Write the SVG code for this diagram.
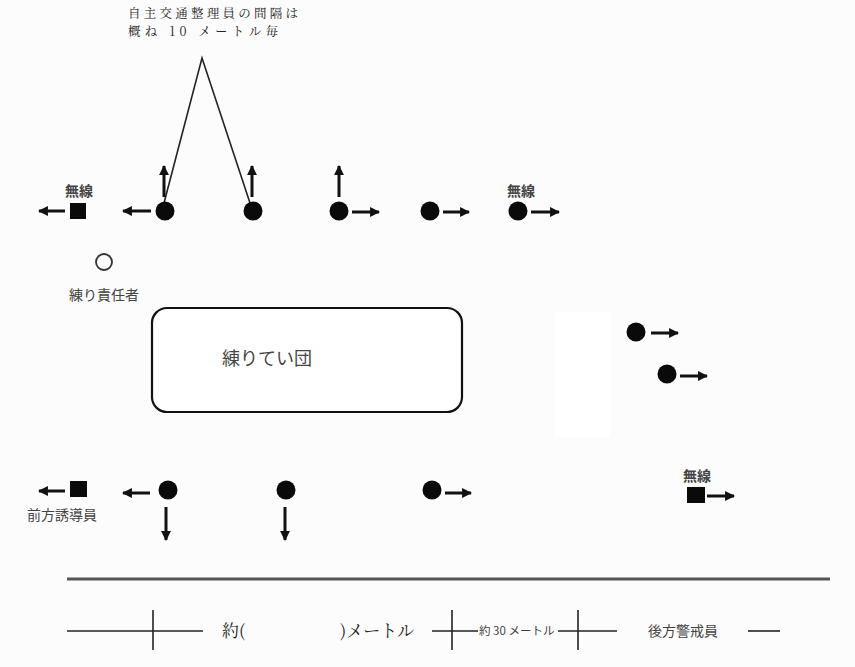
<svg xmlns="http://www.w3.org/2000/svg" width="855" height="667" viewBox="0 0 855 667">
<defs>
<marker id="ah" viewBox="0 0 10 10" refX="9" refY="5" markerWidth="3.3" markerHeight="3.3" orient="auto" markerUnits="strokeWidth">
<path d="M0,0 L10,5 L0,10 z" fill="#111"/>
</marker>
<style>
.arr{stroke:#111;stroke-width:3;fill:none;marker-end:url(#ah)}
.dot{fill:#0a0a0a}
.sq{fill:#0a0a0a}
.lbl{font-family:"Noto Sans CJK JP","Noto Sans CJK SC",sans-serif;font-weight:bold;fill:#444}
.lbn{font-family:"Noto Sans CJK JP","Noto Sans CJK SC",sans-serif;font-weight:normal;fill:#444}
.min{font-family:"Noto Serif CJK JP","Liberation Serif","Noto Sans CJK JP",serif;fill:#222}
.ln{stroke:#222;stroke-width:1.6;fill:none}
</style>
</defs>
<rect width="855" height="667" fill="#fcfcfc"/>
<rect x="555" y="312" width="55" height="125" fill="#ffffff"/>

<g id="note">
<text class="min" x="128" y="17.5" font-size="12.5" textLength="170" lengthAdjust="spacing">自主交通整理員の間隔は</text>
<text class="min" x="128" y="36" font-size="12.5" textLength="150" lengthAdjust="spacing">概ね 10 メートル毎</text>
</g>

<g id="connectors">
<polyline class="ln" points="164,203 202,58 250,203" stroke-width="1.3"/>
<line x1="67" y1="579" x2="830" y2="579" stroke="#555" stroke-width="3"/>
</g>

<g id="top-radio-left">
<text class="lbl" x="79" y="196" font-size="14" text-anchor="middle">無線</text>
<rect class="sq" x="70" y="203" width="16" height="16"/>
<line class="arr" x1="65" y1="211" x2="39" y2="211"/>
</g>
<g id="top1">
<circle class="dot" cx="165" cy="211" r="9.5"/>
<line class="arr" x1="151" y1="211" x2="123" y2="211"/>
<line class="arr" x1="164" y1="197" x2="164" y2="166"/>
</g>
<g id="top2">
<circle class="dot" cx="253" cy="211" r="9.5"/>
<line class="arr" x1="252" y1="197" x2="252" y2="166"/>
</g>
<g id="top3">
<circle class="dot" cx="339" cy="211" r="9.5"/>
<line class="arr" x1="339" y1="197" x2="339" y2="166"/>
<line class="arr" x1="352" y1="212" x2="379" y2="212"/>
</g>
<g id="top4">
<circle class="dot" cx="430" cy="211" r="9.5"/>
<line class="arr" x1="443" y1="212" x2="469" y2="212"/>
</g>
<g id="top5">
<text class="lbl" x="521" y="196" font-size="14" text-anchor="middle">無線</text>
<circle class="dot" cx="518" cy="211" r="9.5"/>
<line class="arr" x1="531" y1="212" x2="559" y2="212"/>
</g>

<g id="leader">
<circle cx="104" cy="262" r="8" fill="none" stroke="#333" stroke-width="1.8"/>
<text class="lbn" x="104" y="300" font-size="14" text-anchor="middle">練り責任者</text>
</g>

<g id="group">
<rect x="152" y="308" width="310" height="104" rx="15" ry="15" fill="#fff" stroke="#111" stroke-width="2.2"/>
<text class="lbn" x="222" y="365" font-size="18" fill="#333">練りてい団</text>
</g>

<g id="right1">
<circle class="dot" cx="636" cy="332" r="9.5"/>
<line class="arr" x1="651" y1="333" x2="678" y2="333"/>
</g>
<g id="right2">
<circle class="dot" cx="667" cy="374" r="9.5"/>
<line class="arr" x1="680" y1="376" x2="707" y2="376"/>
</g>

<g id="front">
<rect class="sq" x="70" y="481" width="17" height="16"/>
<line class="arr" x1="65" y1="491" x2="39" y2="491"/>
<text class="lbn" x="62" y="520" font-size="14" text-anchor="middle">前方誘導員</text>
</g>
<g id="bot1">
<circle class="dot" cx="168" cy="490" r="9.5"/>
<line class="arr" x1="150" y1="493" x2="123" y2="493"/>
<line class="arr" x1="166" y1="507" x2="166" y2="540"/>
</g>
<g id="bot2">
<circle class="dot" cx="286" cy="490" r="9.5"/>
<line class="arr" x1="285" y1="507" x2="285" y2="540"/>
</g>
<g id="bot3">
<circle class="dot" cx="432" cy="490" r="9.5"/>
<line class="arr" x1="445" y1="493" x2="471" y2="493"/>
</g>
<g id="rear">
<text class="lbl" x="697" y="481" font-size="14" text-anchor="middle">無線</text>
<rect class="sq" x="687" y="487" width="18" height="16"/>
<line class="arr" x1="707" y1="496" x2="734" y2="496"/>
</g>

<g id="scale">
<line class="ln" x1="67" y1="631" x2="203" y2="631"/>
<line class="ln" x1="153" y1="610" x2="153" y2="650"/>
<text class="min" x="222" y="637" font-size="17">約(</text>
<text class="min" x="340" y="637" font-size="17">)メートル</text>
<line class="ln" x1="432" y1="631" x2="478" y2="631"/>
<line class="ln" x1="452" y1="610" x2="452" y2="650"/>
<text class="lbn" x="479" y="635" font-size="11.5">約 30 メートル</text>
<line class="ln" x1="558" y1="631" x2="617" y2="631"/>
<line class="ln" x1="578" y1="610" x2="578" y2="650"/>
<text class="lbn" x="648" y="636" font-size="14">後方警戒員</text>
<line class="ln" x1="748" y1="631" x2="780" y2="631"/>
</g>
</svg>
